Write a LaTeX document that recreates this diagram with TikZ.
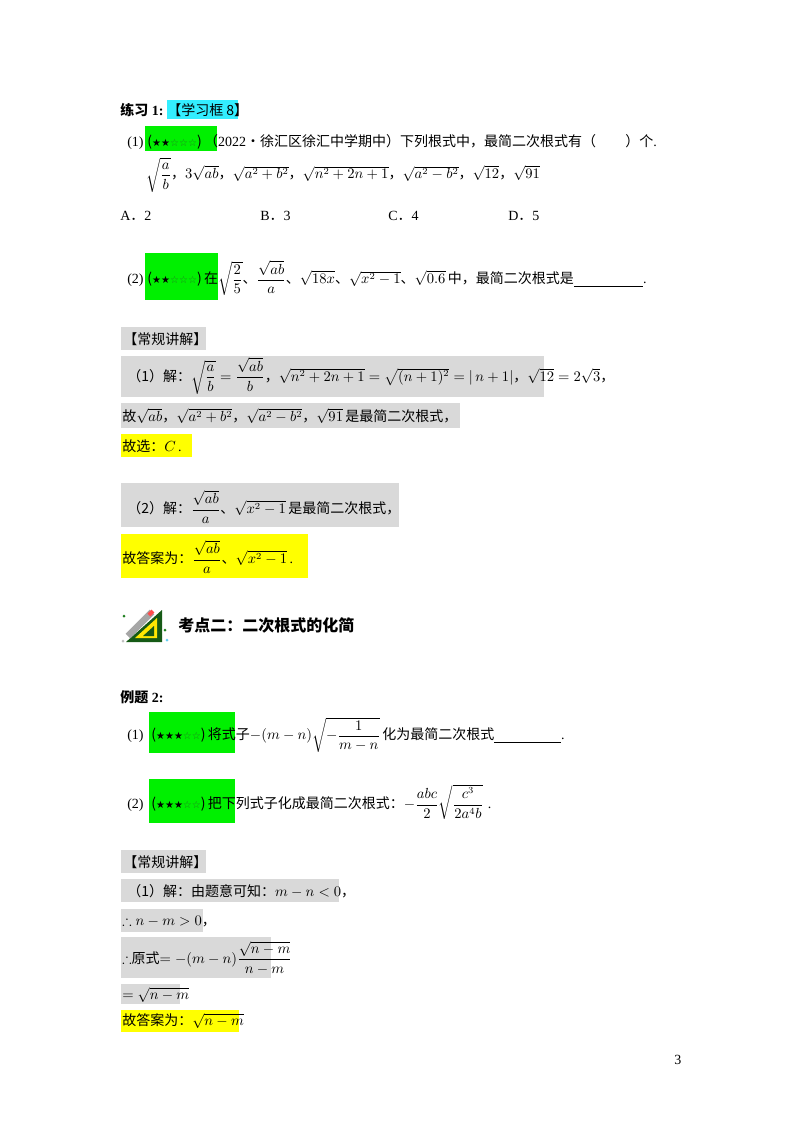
\documentclass[tikz,border=0pt]{standalone}
\usepackage{amsmath,amssymb}
\usepackage{fontspec}
\setmainfont{Liberation Serif}
\newfontfamily\cjk{Noto Sans CJK SC}
\newfontfamily\sym{DejaVu Sans}
\newcommand{\zh}[1]{{\cjk #1}}
\newcommand{\zhb}[1]{{\cjk\bfseries #1}}
\definecolor{hgreen}{HTML}{00F000}
\definecolor{hcyan}{HTML}{33EEFF}
\definecolor{hgray}{HTML}{D9D9D9}
\definecolor{hyel}{HTML}{FFFF00}
\definecolor{sgreen}{HTML}{208020}
\newcommand{\stars}[1]{\zh{(}{\sym\fontsize{7.5}{9}\selectfont\ifcase#1\or\or★★{\color{sgreen}☆☆☆}\or★★★{\color{sgreen}☆☆}\fi}\zh{)}}
\begin{document}
\begin{tikzpicture}[x=0.75pt,y=-0.75pt,
  t/.style={anchor=west,inner sep=0,font=\fontsize{10.5}{12}\selectfont}]
\useasboundingbox (0,0) rectangle (800,1132);
\fill[white] (0,0) rectangle (800,1132);
% highlight boxes
\fill[hcyan] (167,100) rectangle (238,119);
\fill[hgreen] (145,126) rectangle (217,151);
\fill[hgreen] (145,253) rectangle (218,300);
\fill[hgray] (121,327) rectangle (206,350);
\fill[hgray] (121,356) rectangle (544,397);
\fill[hgray] (121,403) rectangle (460,428);
\fill[hyel] (121,434) rectangle (192,457);
\fill[hgray] (121,483) rectangle (399,527);
\fill[hyel] (121,534) rectangle (308,578);
\fill[hgreen] (149,712) rectangle (235,753);
\fill[hgreen] (149,779) rectangle (235,823);
\fill[hgray] (121,850) rectangle (206,873);
\fill[hgray] (121,879) rectangle (339,902);
\fill[hgray] (121,909) rectangle (203,932);
\fill[hgray] (121,937) rectangle (271,978);
\fill[hgray] (121,984) rectangle (180,1004);
\fill[hyel] (121,1010) rectangle (239,1032);

\node[t] (lx) at (120,110) {\zhb{练习}\textbf{ 1:}\;\zh{【学习框 8】}};
\node[t] (q1) at (127,142) {(1)\;\stars{2}\,\zh{（}2022\zh{•徐汇区徐汇中学期中）下列根式中，最简二次根式有（}\hspace{22pt}\zh{）个}.};
\node[t] (r1) at (146,175) {$\sqrt{\dfrac{a}{b}}$\zh{，}$3\sqrt{ab}$\zh{，}$\sqrt{a^2+b^2}$\zh{，}$\sqrt{n^2+2n+1}$\zh{，}$\sqrt{a^2-b^2}$\zh{，}$\sqrt{12}$\zh{，}$\sqrt{91}$};
\node[t] (oa) at (120,216) {A\zh{．}2};
\node[t] (ob) at (260,216) {B\zh{．}3};
\node[t] (oc) at (388,216) {C\zh{．}4};
\node[t] (od) at (508,216) {D\zh{．}5};
\node[t] (q2) at (127,278) {(2)\;\stars{2}\,\zh{在}$\sqrt{\dfrac{2}{5}}$\zh{、}$\dfrac{\sqrt{ab}}{a}$\zh{、}$\sqrt{18x}$\zh{、}$\sqrt{x^2-1}$\zh{、}$\sqrt{0.6}$\,\zh{中，最简二次根式是}\underline{\hspace{52pt}}.};

\node[t] (h1) at (123,339) {\zh{【常规讲解】}};
\node[t] (s1) at (127,376) {\zh{（1）解：}$\sqrt{\dfrac{a}{b}}=\dfrac{\sqrt{ab}}{b}$\zh{，}$\sqrt{n^2+2n+1}=\sqrt{(n+1)^2}=|\,n+1|$\zh{，}$\sqrt{12}=2\sqrt{3}$\zh{，}};
\node[t] (s2) at (122,416) {\zh{故}$\sqrt{ab}$\zh{，}$\sqrt{a^2+b^2}$\zh{，}$\sqrt{a^2-b^2}$\zh{，}$\sqrt{91}$\,\zh{是最简二次根式，}};
\node[t] (s3) at (122,446) {\zh{故选：}$C$\,.};
\node[t] (s4) at (127,507) {\zh{（2）解：}$\dfrac{\sqrt{ab}}{a}$\zh{、}$\sqrt{x^2-1}$\,\zh{是最简二次根式，}};
\node[t] (s5) at (122,557) {\zh{故答案为：}$\dfrac{\sqrt{ab}}{a}$\zh{、}$\sqrt{x^2-1}$\,.};

% icon
\begin{scope}[shift={(122,606)}]
\fill[sgreen!70!black] (4,36) -- (40,36) -- (40,4) -- cycle;
\fill[yellow!90!orange] (13,32) -- (35,32) -- (35,12) -- cycle;
\fill[sgreen!70!black] (21,30) -- (32,30) -- (32,20) -- cycle;
\draw[line width=5pt,gray!70] (6,30) -- (30,6);
\draw[line width=3pt,red!70] (27,9) -- (31,5);
\fill[gray!50] (1,35) circle (1.5);
\fill[sgreen] (2,10) circle (1.5);
\fill[sgreen] (43,24) circle (1.5);
\fill[cyan!60] (45,34) circle (1.5);
\end{scope}
\node[t,font=\fontsize{12}{14}\selectfont] (kd) at (178,625) {\zhb{考点二：二次根式的化简}};

\node[t] (lt) at (120,697) {\zhb{例题} \textbf{2:}};
\node[t] (e1) at (127,735) {(1)\;\;\stars{3}\,\zh{将式子}$-(m-n)\sqrt{-\dfrac{1}{m-n}}$\,\zh{化为最简二次根式}\underline{\hspace{50pt}}.};
\node[t] (e2) at (127,802) {(2)\;\;\stars{3}\,\zh{把下列式子化成最简二次根式：}$-\dfrac{abc}{2}\sqrt{\dfrac{c^3}{2a^4b}}$\,\,.};

\node[t] (h2) at (123,862) {\zh{【常规讲解】}};
\node[t] (f1) at (127,891) {\zh{（1）解：由题意可知：}$m-n<0$\zh{，}};
\node[t] (f2) at (122,921) {$\therefore n-m>0$\zh{，}};
\node[t] (f3) at (122,958) {$\therefore$\zh{原式}$=-(m-n)\dfrac{\sqrt{n-m}}{n-m}$};
\node[t] (f4) at (122,995) {$=\sqrt{n-m}$};
\node[t] (f5) at (122,1021) {\zh{故答案为：}$\sqrt{n-m}$};

\node[t] (pg) at (674,1060) {3};
\end{tikzpicture}
\end{document}
